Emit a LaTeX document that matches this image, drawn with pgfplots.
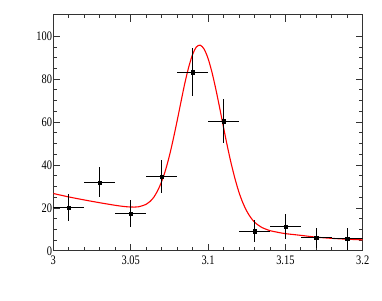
\documentclass[border=0pt]{standalone}
\usepackage{fontspec}
\setmainfont{Liberation Serif}[FakeStretch=0.8]
\usepackage{pgfplots}
\pgfplotsset{compat=1.18}
\begin{document}
\begin{tikzpicture}
\begin{axis}[
  scale only axis,
  width=309.4pt, height=236.1pt,
  xmin=3, xmax=3.2, ymin=0, ymax=110,
  xtick={3,3.05,3.1,3.15,3.2},
  xticklabels={3,3.05,3.1,3.15,3.2},
  ytick={0,20,40,60,80,100},
  yticklabels={0,20,40,60,80,100},
  minor x tick num=4,
  minor y tick num=3,
  major tick length=7pt,
  minor tick length=3.5pt,
  tick align=inside,
  axis line style={line width=0.8pt, black!80},
  every tick/.style={black!80, line width=0.7pt},
  /pgf/number format/assume math mode=true,
  tick label style={font=\fontsize{13}{15}\selectfont},
  yticklabel style={inner xsep=1pt},
  xticklabel style={yshift=-2pt},
]
\addplot[red, line width=1.1pt, smooth] coordinates {
(3.000,26.7) (3.010,25.1) (3.020,23.7) (3.030,22.4) (3.040,21.2) (3.045,20.7)
(3.050,20.4) (3.055,20.5) (3.060,21.65) (3.0625,22.96) (3.065,25.0) (3.0675,28.1)
(3.070,32.2) (3.0725,37.5) (3.075,44.1) (3.0775,51.9) (3.080,60.4) (3.0825,69.3)
(3.085,78.0) (3.0875,85.5) (3.090,91.4) (3.0925,94.95) (3.095,95.8) (3.0975,93.95)
(3.100,89.7) (3.1025,83.35) (3.105,75.5) (3.1075,66.75) (3.110,57.6) (3.1125,48.75)
(3.115,40.6) (3.1175,33.45) (3.120,27.3) (3.1225,22.4) (3.125,18.55) (3.1275,15.6)
(3.130,13.4) (3.1325,11.95) (3.135,10.8) (3.1375,10.05) (3.140,9.4) (3.145,8.63)
(3.150,8.0) (3.160,7.2) (3.170,6.35) (3.180,5.8) (3.190,5.4) (3.200,5.1)
};
\addplot[black, only marks, mark=square*, mark size=1.6pt,
  error bars/.cd, x dir=both, x explicit, y dir=both, y explicit,
  error mark=none, error bar style={line width=1.2pt, black}]
coordinates {
(3.01,20.25) +- (0.01,6.2)
(3.03,31.9) +- (0.01,7.0)
(3.05,17.3) +- (0.01,6.2)
(3.07,34.5) +- (0.01,7.8)
(3.09,83.2) +- (0.01,11.3)
(3.11,60.4) +- (0.01,10.1)
(3.13,9.1) +- (0.01,5.2)
(3.15,11.4) +- (0.01,5.7)
(3.17,6.1) +- (0.01,4.6)
(3.19,5.6) +- (0.01,5.2)
};
\end{axis}
\pgfresetboundingbox
\path ([shift={(-53.3pt,-49.2pt)}]current axis.south west) rectangle ([shift={(19.3pt,14.7pt)}]current axis.north east);
\end{tikzpicture}
\end{document}
